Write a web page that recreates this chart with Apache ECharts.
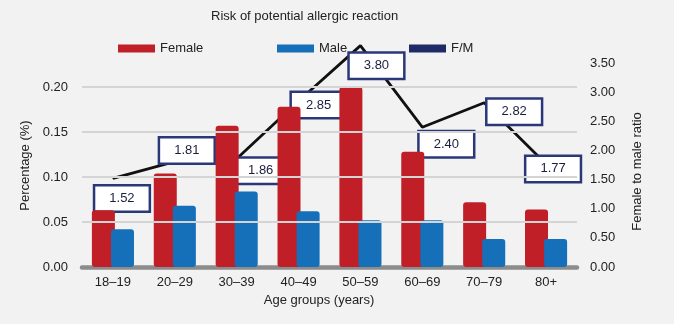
<!DOCTYPE html>
<html>
<head>
<meta charset="utf-8">
<script src="https://cdn.jsdelivr.net/npm/echarts@6/dist/echarts.min.js"></script>
<style>
html,body{margin:0;padding:0;background:#f2f2f2;}
#chart{width:674px;height:324px;}
</style>
</head>
<body>
<div id="chart"></div>
<script>
// ---- data ----
const categories = ['18–19', '20–29', '30–39', '40–49', '50–59', '60–69', '70–79', '80+'];
const female = [0.063, 0.104, 0.157, 0.178, 0.200, 0.128, 0.072, 0.064];
const male = [0.042, 0.068, 0.084, 0.062, 0.052, 0.052, 0.031, 0.031];
const ratio = [1.52, 1.81, 1.86, 2.85, 3.80, 2.40, 2.82, 1.77];
const percentGridValues = [0.05, 0.10, 0.15, 0.20];

// ---- layout (label box offsets from each ratio point) ----
const ratioLabelOffsets = [[9, 20], [12, -11], [24, 12], [20, 4], [16, 20], [24, 17], [30, 9], [7, 5]];

const FONT = '"Liberation Sans", Arial, sans-serif';
const TXT = '#222';
const RED = '#c11f27', BLUE = '#1570b9', NAVY = '#1f2a66';

const chart = echarts.init(document.getElementById('chart'));
const legendCommon = {
  top: 37, itemWidth: 37, itemHeight: 8, icon: 'rect', itemGap: 5,
  textStyle: {fontFamily: FONT, fontSize: 13, color: TXT}
};
chart.setOption({
  backgroundColor: '#f2f2f2',
  animation: false,
  textStyle: {fontFamily: FONT},
  title: {
    text: 'Risk of potential allergic reaction',
    left: 206, top: 5,
    textStyle: {fontFamily: FONT, fontSize: 13, fontWeight: 'normal', color: TXT}
  },
  legend: [
    Object.assign({left: 113, data: [{name: 'Female', itemStyle: {color: RED}}]}, legendCommon),
    Object.assign({left: 272, data: [{name: 'Male', itemStyle: {color: BLUE}}]}, legendCommon),
    Object.assign({left: 404, data: [{name: 'F/M', itemStyle: {color: NAVY}}]}, legendCommon)
  ],
  grid: {left: 82, right: 97, top: 34, bottom: 57},
  xAxis: {
    type: 'category',
    data: categories,
    axisTick: {show: false},
    axisLine: {lineStyle: {color: '#8c8c8c', width: 4.5}},
    axisLabel: {fontFamily: FONT, fontSize: 13, color: TXT, margin: 9},
    name: 'Age groups (years)',
    nameLocation: 'middle',
    nameGap: 24,
    nameTextStyle: {fontFamily: FONT, fontSize: 13, color: TXT, padding: [0, 21, 0, 0]}
  },
  yAxis: [
    {
      type: 'value', min: 0, max: 0.259, interval: 0.05,
      splitLine: {show: false},
      axisLine: {show: false}, axisTick: {show: false},
      axisLabel: {
        fontFamily: FONT, fontSize: 13, color: TXT, margin: 14,
        formatter: v => (v > 0.2001 ? '' : v.toFixed(2))
      },
      name: 'Percentage (%)',
      nameLocation: 'middle',
      nameGap: 50,
      nameTextStyle: {fontFamily: FONT, fontSize: 13, color: TXT, padding: [0, 30, 0, 0]}
    },
    {
      type: 'value', min: 0, max: 4, interval: 0.5,
      position: 'right',
      splitLine: {show: false},
      axisLine: {show: false}, axisTick: {show: false},
      axisLabel: {
        fontFamily: FONT, fontSize: 13, color: TXT, margin: 13,
        formatter: v => (v > 3.5001 ? '' : v.toFixed(2))
      },
      name: 'Female to male ratio',
      nameLocation: 'middle',
      nameGap: 54,
      nameTextStyle: {fontFamily: FONT, fontSize: 13, color: TXT, padding: [0, 42, 0, 0]}
    }
  ],
  series: [
    {
      name: 'grid', type: 'line', data: [], yAxisIndex: 0, z: 0, silent: true,
      markLine: {
        silent: true, symbol: 'none', label: {show: false},
        lineStyle: {color: '#d4d4d4', width: 2, type: 'solid'},
        data: percentGridValues.map(v => ({yAxis: v}))
      }
    },
    {
      name: 'Female', type: 'bar', data: female, yAxisIndex: 0, z: 3,
      barWidth: 23, barGap: '-17%',
      itemStyle: {color: RED, borderRadius: 3}
    },
    {
      name: 'Male', type: 'bar', data: male, yAxisIndex: 0, z: 3,
      barWidth: 23, barGap: '-17%',
      itemStyle: {color: BLUE, borderRadius: 3}
    },
    {
      name: 'F/M', type: 'line', yAxisIndex: 1, z: 2,
      data: ratio.map((v, i) => ({value: v, label: {offset: ratioLabelOffsets[i]}})),
      symbol: 'circle', symbolSize: 1, showSymbol: true,
      itemStyle: {color: '#111'},
      lineStyle: {color: '#111', width: 2.8},
      label: {
        show: true, position: 'inside',
        formatter: p => p.value.toFixed(2),
        fontFamily: FONT, fontSize: 13, color: '#1a1f3d',
        backgroundColor: '#ffffff', borderColor: '#2a3778', borderWidth: 2.5,
        padding: [6, 14, 5, 14]
      }
    }
  ]
});
</script>
</body>
</html>
